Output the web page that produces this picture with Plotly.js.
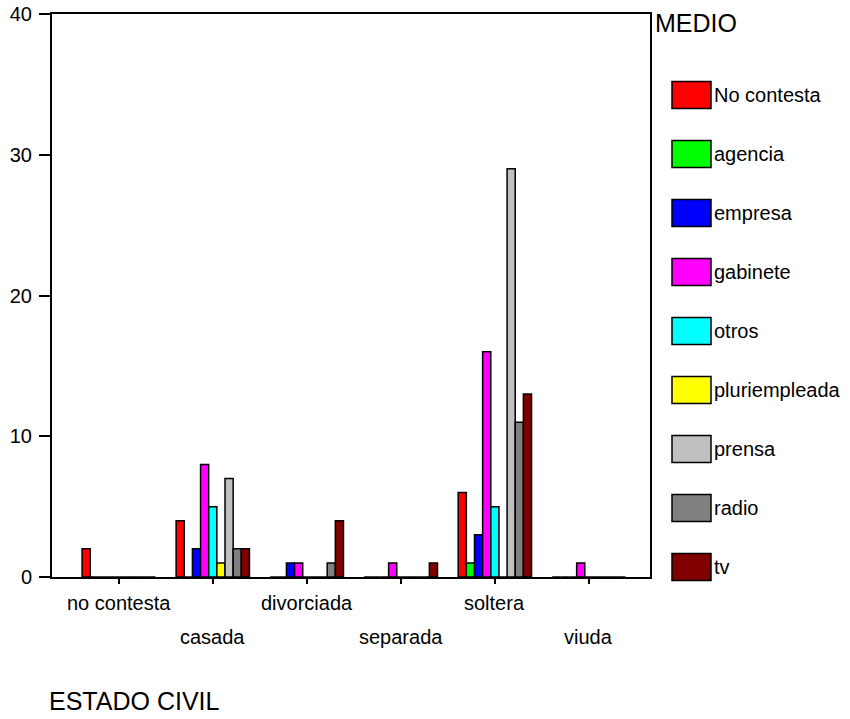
<!DOCTYPE html>
<html>
<head>
<meta charset="utf-8">
<script src="https://cdn.plot.ly/plotly-3.0.1.min.js"></script>
<style>html,body{margin:0;padding:0;background:#fff;}#chart{width:850px;height:719px;}</style>
</head>
<body>
<div id="chart"></div>
<script>
var categories = ["no contesta", "casada", "divorciada", "separada", "soltera", "viuda"];
var seriesNames = ["No contesta", "agencia", "empresa", "gabinete", "otros", "pluriempleada", "prensa", "radio", "tv"];
var noContesta   = [2, 4, 0, 0, 6, 0];
var agencia      = [0, 0, 0, 0, 1, 0];
var empresa      = [0, 2, 1, 0, 3, 0];
var gabinete     = [0, 8, 1, 1, 16, 1];
var otros        = [0, 5, 0, 0, 5, 0];
var pluriempleada= [0, 1, 0, 0, 0, 0];
var prensa       = [0, 7, 0, 0, 29, 0];
var radio        = [0, 2, 1, 0, 11, 0];
var tv           = [0, 2, 4, 1, 13, 0];
var seriesValues = [noContesta, agencia, empresa, gabinete, otros, pluriempleada, prensa, radio, tv];
var colors = ["#FF0000", "#00FF00", "#0000FF", "#FF00FF", "#00FFFF", "#FFFF00", "#C0C0C0", "#808080", "#800000"];
var yTicks = [0, 10, 20, 30, 40];
var legendTitle = "MEDIO";
var xTitle = "ESTADO CIVIL";

var idx = categories.map(function(c, i){ return i; });
var font = "Liberation Sans, Arial, sans-serif";

var traces = seriesNames.map(function(name, s){
  return {
    type: "bar",
    name: name,
    x: idx,
    y: seriesValues[s],
    marker: {color: colors[s], line: {color: "#000", width: 1.5}},
    showlegend: false,
    hoverinfo: "x+y+name"
  };
});

// plot area geometry in pixels (for legend/labels placement)
var L = 52, R = 650, T = 14, B = 577;
function px2x(px){ return (px - L) / (R - L); }
function py2y(py){ return (B - py) / (B - T); }

var shapes = [];
var annotations = [];

// category labels in two staggered rows
categories.forEach(function(c, i){
  annotations.push({
    xref: "x", yref: "paper", x: i, y: py2y(i % 2 === 0 ? 603 : 637),
    text: c, showarrow: false, xanchor: "center", yanchor: "middle",
    font: {family: font, size: 20, color: "#000"}
  });
});

// custom legend
annotations.push({
  xref: "paper", yref: "paper", x: px2x(653), y: py2y(23),
  text: legendTitle, showarrow: false, xanchor: "left", yanchor: "middle",
  font: {family: font, size: 25, color: "#000"}
});
seriesNames.forEach(function(name, s){
  var cy = 95 + s * 59.0;
  shapes.push({
    type: "rect", xref: "paper", yref: "paper",
    x0: px2x(672), x1: px2x(711), y0: py2y(cy - 13.5), y1: py2y(cy + 13.5),
    fillcolor: colors[s], line: {color: "#000", width: 1.5}
  });
  annotations.push({
    xref: "paper", yref: "paper", x: px2x(712), y: py2y(cy),
    text: name, showarrow: false, xanchor: "left", yanchor: "middle",
    font: {family: font, size: 20, color: "#000"}
  });
});

// x axis title
annotations.push({
  xref: "paper", yref: "paper", x: px2x(47), y: py2y(701),
  text: xTitle, showarrow: false, xanchor: "left", yanchor: "middle",
  font: {family: font, size: 25, color: "#000"}
});

var layout = {
  width: 850, height: 719,
  margin: {l: L, r: 850 - R, t: T, b: 719 - B, pad: 0},
  paper_bgcolor: "#fff", plot_bgcolor: "#fff",
  barmode: "group", bargap: 0.22, bargroupgap: 0,
  showlegend: false,
  xaxis: {
    range: [-0.71, 5.65], tickvals: idx, showticklabels: false,
    ticks: "outside", ticklen: 5, tickwidth: 1.5, tickcolor: "#000",
    showline: true, linecolor: "#000", linewidth: 2, mirror: true,
    showgrid: false, zeroline: false
  },
  yaxis: {
    range: [0, 40], tickvals: yTicks, ticktext: yTicks.map(String),
    ticks: "outside", ticklen: 11, tickwidth: 2, tickcolor: "#000",
    ticklabelstandoff: 3,
    showline: true, linecolor: "#000", linewidth: 2, mirror: true,
    showgrid: false, zeroline: false,
    tickfont: {family: font, size: 20, color: "#000"}
  },
  shapes: shapes,
  annotations: annotations
};

Plotly.newPlot("chart", traces, layout, {displayModeBar: false, staticPlot: true});
</script>
</body>
</html>
